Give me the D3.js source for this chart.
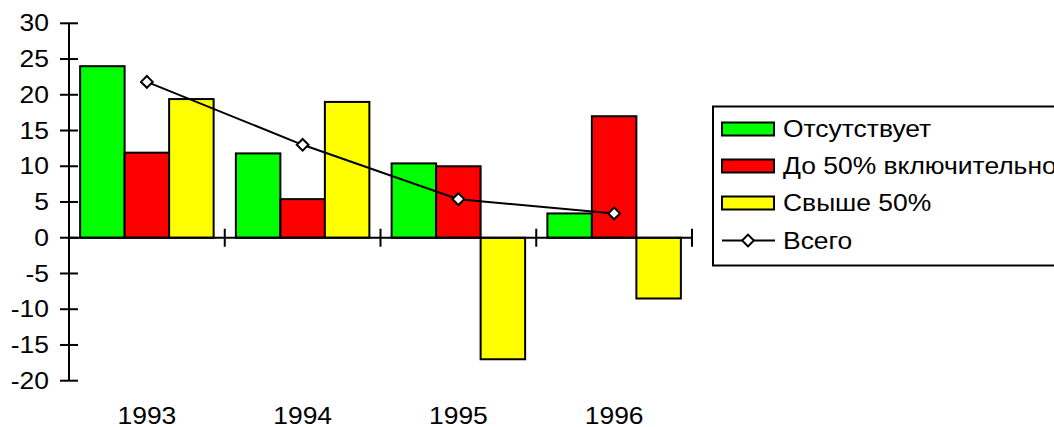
<!DOCTYPE html>
<html>
<head>
<meta charset="utf-8">
<script src="https://cdn.jsdelivr.net/npm/d3@7"></script>
<style>
  html, body { margin: 0; padding: 0; background: #fff; }
  svg { display: block; font-family: "Liberation Sans", Arial, sans-serif; }
</style>
</head>
<body>
<svg id="chart" width="1054" height="427"></svg>
<script>
// Categories and series
const years = ["1993", "1994", "1995", "1996"];
const seriesNames = ["Отсутствует", "До 50% включительно", "Свыше 50%"];
const seriesColors = ["#00ff00", "#ff0000", "#ffff00"];
const absent = [24.0, 11.8, 10.4, 3.4];
const upTo50 = [11.9, 5.4, 10.0, 17.0];
const over50 = [19.4, 19.0, -17.0, -8.5];
const total = [21.8, 13.0, 5.4, 3.4];
const totalName = "Всего";
const yTicks = [-20, -15, -10, -5, 0, 5, 10, 15, 20, 25, 30];

const svg = d3.select("#chart");
const plotLeft = 69, plotRight = 692, plotTop = 23.3, plotBottom = 380.7;
const fontSize = 23, stretch = 1.15;

const x = d3.scaleBand().domain(years).range([plotLeft, plotRight]).paddingInner(0).paddingOuter(0);
const xs = d3.scaleBand().domain(d3.range(3)).range([0, x.bandwidth()]).paddingInner(0).paddingOuter(0.25);
const y = d3.scaleLinear().domain([-20, 30]).range([plotBottom, plotTop]);

const seriesData = [absent, upTo50, over50];

// Horizontally widened label placed at (px, py)
function label(sel, px, py) {
  return sel.attr("transform", (d, i) =>
    `translate(${typeof px === "function" ? px(d, i) : px},${typeof py === "function" ? py(d, i) : py}) scale(${stretch},1)`);
}

// Bars
const groups = svg.append("g").selectAll("g")
  .data(years).join("g")
  .attr("transform", d => `translate(${x(d)},0)`);

groups.selectAll("rect")
  .data((yr, i) => seriesData.map((s, k) => ({ k, v: s[i] })))
  .join("rect")
  .attr("x", d => xs(d.k))
  .attr("width", xs.bandwidth())
  .attr("y", d => y(Math.max(0, d.v)))
  .attr("height", d => Math.abs(y(d.v) - y(0)))
  .attr("fill", d => seriesColors[d.k])
  .attr("stroke", "#000")
  .attr("stroke-width", 2);

// Y axis
const yAxis = svg.append("g");
yAxis.append("line")
  .attr("x1", plotLeft).attr("x2", plotLeft)
  .attr("y1", y(30)).attr("y2", y(-20))
  .attr("stroke", "#000").attr("stroke-width", 2);
yAxis.selectAll("line.tick").data(yTicks).join("line")
  .attr("class", "tick")
  .attr("x1", plotLeft - 9).attr("x2", plotLeft + 9)
  .attr("y1", d => y(d)).attr("y2", d => y(d))
  .attr("stroke", "#000").attr("stroke-width", 2);
yAxis.selectAll("text").data(yTicks).join("text")
  .call(label, 49, d => y(d))
  .attr("dy", "0.35em")
  .attr("text-anchor", "end")
  .attr("font-size", fontSize)
  .text(d => d);

// X axis along zero
const xAxis = svg.append("g");
xAxis.append("line")
  .attr("x1", plotLeft).attr("x2", plotRight)
  .attr("y1", y(0)).attr("y2", y(0))
  .attr("stroke", "#000").attr("stroke-width", 2);
const bounds = years.map(d => x(d) + x.bandwidth());
xAxis.selectAll("line.tick").data(bounds).join("line")
  .attr("class", "tick")
  .attr("x1", d => d).attr("x2", d => d)
  .attr("y1", y(0) - 9).attr("y2", y(0) + 9)
  .attr("stroke", "#000").attr("stroke-width", 2);
xAxis.selectAll("text").data(years).join("text")
  .call(label, d => x(d) + x.bandwidth() / 2, 424)
  .attr("text-anchor", "middle")
  .attr("font-size", fontSize)
  .text(d => d);

// Total line with diamond markers
const line = d3.line()
  .x((d, i) => x(years[i]) + x.bandwidth() / 2)
  .y(d => y(d));
svg.append("path")
  .datum(total)
  .attr("d", line)
  .attr("fill", "none")
  .attr("stroke", "#000")
  .attr("stroke-width", 2);
const diamond = d3.symbol().type(d3.symbolDiamond2).size(88);
svg.append("g").selectAll("path")
  .data(total).join("path")
  .attr("transform", (d, i) => `translate(${x(years[i]) + x.bandwidth() / 2},${y(d)})`)
  .attr("d", diamond)
  .attr("fill", "#fff")
  .attr("stroke", "#000")
  .attr("stroke-width", 2);

// Legend
const legend = svg.append("g");
legend.append("rect")
  .attr("x", 713).attr("y", 106.5)
  .attr("width", 360).attr("height", 159)
  .attr("fill", "#fff").attr("stroke", "#000").attr("stroke-width", 2);
const rowY = [129, 166, 203, 240.5];
seriesNames.forEach((name, k) => {
  legend.append("rect")
    .attr("x", 722).attr("y", rowY[k] - 6.5)
    .attr("width", 52).attr("height", 13)
    .attr("fill", seriesColors[k]).attr("stroke", "#000").attr("stroke-width", 2);
  legend.append("text")
    .call(label, 783, rowY[k])
    .attr("dy", "0.36em")
    .attr("font-size", fontSize)
    .text(name);
});
legend.append("line")
  .attr("x1", 722).attr("x2", 775)
  .attr("y1", rowY[3]).attr("y2", rowY[3])
  .attr("stroke", "#000").attr("stroke-width", 2);
legend.append("path")
  .attr("transform", `translate(748,${rowY[3]})`)
  .attr("d", diamond)
  .attr("fill", "#fff").attr("stroke", "#000").attr("stroke-width", 2);
legend.append("text")
  .call(label, 783, rowY[3])
  .attr("dy", "0.36em")
  .attr("font-size", fontSize)
  .text(totalName);
</script>
</body>
</html>
